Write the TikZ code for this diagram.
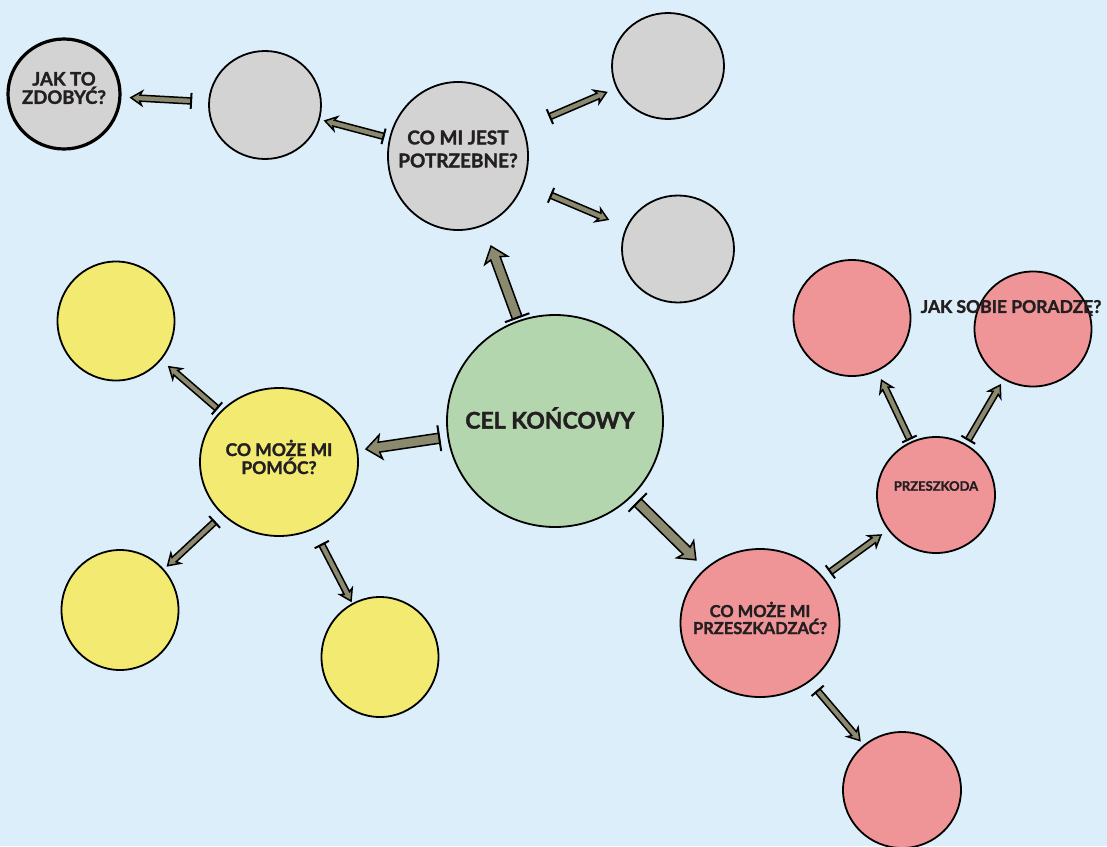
\documentclass[tikz,border=0pt]{standalone}
\usepackage{fontspec}
\setmainfont{Lato}[BoldFeatures={FakeBold=1.6}]
\usetikzlibrary{calc,shapes.geometric}
\definecolor{bgc}{HTML}{DCEEF9}
\definecolor{grayc}{HTML}{D4D3D3}
\definecolor{yelc}{HTML}{F3EA72}
\definecolor{grnc}{HTML}{B4D6AE}
\definecolor{redc}{HTML}{EF9598}
\definecolor{arrc}{HTML}{8B8A6E}
\definecolor{txtc}{HTML}{231F20}
\tikzset{
  bubble/.style={ellipse, draw=black, line width=1.8pt, inner sep=0pt},
  lbl/.style={align=center, text=txtc, font=\bfseries\fontsize{16}{18}\selectfont},
  arrowbody/.style={fill=arrc, draw=black, line width=1.5pt, line join=miter},
  arrowbar/.style={draw=black, line width=2pt},
}
% #1 from node, #2 to node, #3 tail dist, #4 head dist,
% #5 shaft half width, #6 head half width, #7 head length, #8 barb length, #9 bar half length
\newcommand\fatarrowgen[9]{%
  \coordinate (ta) at ($(#1)!#3!(#2)$);
  \coordinate (hd) at ($(#2)!#4!(#1)$);
  \coordinate (nk) at ($(hd)!#7!(ta)$);
  \coordinate (bk) at ($(hd)!#8!(ta)$);
  \filldraw[arrowbody] ($(ta)!#5!90:(hd)$) -- ($(nk)!#5!90:(hd)$) -- ($(bk)!#6!90:(hd)$) -- (hd)
    -- ($(bk)!#6!-90:(hd)$) -- ($(nk)!#5!-90:(hd)$) -- ($(ta)!#5!-90:(hd)$) -- cycle;
  \draw[arrowbar] ($(ta)!#9!90:(hd)$) -- ($(ta)!#9!-90:(hd)$);
}
\newcommand\bigarrow[4]{\fatarrowgen{#1}{#2}{#3}{#4}{5pt}{12pt}{13pt}{15pt}{13pt}}
\newcommand\smallarrow[4]{\fatarrowgen{#1}{#2}{#3}{#4}{3pt}{7pt}{9pt}{11pt}{8pt}}
\begin{document}
\begin{tikzpicture}[x=1pt,y=-1pt]
\fill[bgc] (0,0) rectangle (1107,846);
\useasboundingbox (0,0) rectangle (1107,846);

% nodes
\node[bubble, fill=grayc, line width=3.2pt, minimum width=112pt, minimum height=110pt] (jak) at (64,94) {};
\node[bubble, fill=grayc, minimum width=112pt, minimum height=108pt] (g1) at (265,105) {};
\node[bubble, fill=grayc, minimum width=140pt, minimum height=148pt] (need) at (458,156) {};
\node[bubble, fill=grayc, minimum width=112pt, minimum height=106pt] (g2) at (668,66) {};
\node[bubble, fill=grayc, minimum width=112pt, minimum height=107pt] (g3) at (678,249) {};
\node[bubble, fill=grnc, minimum width=216pt, minimum height=212pt] (cel) at (555,421) {};
\node[bubble, fill=yelc, minimum width=117pt, minimum height=119pt] (y1) at (116,321) {};
\node[bubble, fill=yelc, minimum width=158pt, minimum height=148pt] (help) at (279,462) {};
\node[bubble, fill=yelc, minimum width=117pt, minimum height=120pt] (y2) at (120,610) {};
\node[bubble, fill=yelc, minimum width=117pt, minimum height=120pt] (y3) at (380,657) {};
\node[bubble, fill=redc, minimum width=117pt, minimum height=116pt] (r1) at (852,318) {};
\node[bubble, fill=redc, minimum width=117pt, minimum height=115pt] (r2) at (1033,329) {};
\node[bubble, fill=redc, minimum width=118pt, minimum height=116pt] (obst) at (936,495) {};
\node[bubble, fill=redc, minimum width=159pt, minimum height=148pt] (hind) at (760,623) {};
\node[bubble, fill=redc, minimum width=118pt, minimum height=116pt] (r3) at (902,790) {};

% labels
\node[lbl, font=\bfseries\fontsize{18.5}{17}\selectfont] (jakt) at (64,88) {JAK TO\\ZDOBYĆ?};
\node[lbl, font=\bfseries\fontsize{19}{23}\selectfont] (needt) at (458,149) {CO MI JEST\\POTRZEBNE?};
\node[lbl, font=\bfseries\fontsize{23}{24}\selectfont] (celt) at (550,418) {CEL KOŃCOWY};
\node[lbl, font=\bfseries\fontsize{17.5}{18}\selectfont] (helpt) at (279,457) {CO MOŻE MI\\POMÓC?};
\node[lbl, font=\bfseries\fontsize{16.5}{17}\selectfont] (hindt) at (760,618) {CO MOŻE MI\\PRZESZKADZAĆ?};
\node[lbl, font=\bfseries\fontsize{13}{14}\selectfont] (obstt) at (936,486) {PRZESZKODA};
\node[lbl, font=\bfseries\fontsize{17.5}{17}\selectfont] (poradt) at (1011,308) {JAK SOBIE PORADZĘ?};

% connectors
\bigarrow{cel}{need}{110pt}{96pt}
\bigarrow{cel}{help}{117pt}{88pt}
\bigarrow{cel}{hind}{116pt}{90pt}
\smallarrow{need}{g1}{77pt}{62pt}
\smallarrow{g1}{jak}{74pt}{67pt}
\smallarrow{need}{g2}{100pt}{67pt}
\smallarrow{need}{g3}{101pt}{76pt}
\smallarrow{help}{y1}{82pt}{70pt}
\smallarrow{help}{y2}{88pt}{65pt}
\smallarrow{help}{y3}{93pt}{63pt}
\smallarrow{hind}{obst}{87pt}{68pt}
\smallarrow{hind}{r3}{89pt}{65pt}
\smallarrow{obst}{r1}{62pt}{69pt}
\smallarrow{obst}{r2}{64pt}{65pt}
\end{tikzpicture}
\end{document}
